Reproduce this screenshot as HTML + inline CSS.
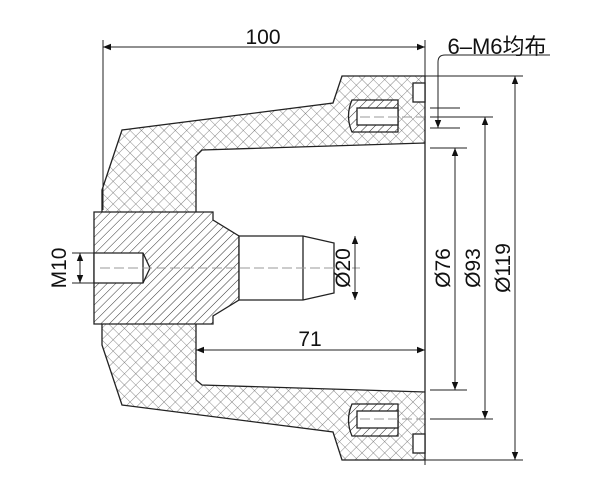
<!DOCTYPE html>
<html><head><meta charset="utf-8"><style>body{margin:0;background:#fff}svg{display:block}</style></head><body>
<svg width="600" height="500" viewBox="0 0 600 500" xmlns="http://www.w3.org/2000/svg" font-family="Liberation Sans, Noto Sans CJK SC, sans-serif">
<defs>
<pattern id="x" width="8" height="8" patternUnits="userSpaceOnUse" patternTransform="rotate(45)">
<rect width="8" height="8" fill="#fff"/><path d="M0 0H8M0 0V8" stroke="#666" stroke-width="0.8"/></pattern>
<pattern id="h" width="6" height="6" patternUnits="userSpaceOnUse" patternTransform="rotate(45)">
<rect width="6" height="6" fill="#fff"/><path d="M0 0V6" stroke="#333" stroke-width="1"/></pattern>
<marker id="a" viewBox="0 0 10 10" refX="10" refY="5" markerWidth="10" markerHeight="8" orient="auto-start-reverse" markerUnits="userSpaceOnUse"><path d="M0 1L10 5L0 9Z" fill="#111"/></marker>
</defs>
<g stroke="#222" stroke-width="1.3">
<path fill="url(#x)" fill-rule="evenodd" d="M342,76 L425,76 L425,460 L342,460 L333,432 L122,405 L102,345 L102,190 L122,130 L333,103 Z M202,150 L425,143 L425,392 L202,385 L196,380 L196,156 Z"/>
<path fill="url(#h)" d="M94,212 L213,212 L213,220 L239,236 L239,300 L213,316 L213,324 L94,324 Z"/>
<path fill="#fff" d="M94,253 L143,253 L150,268 L143,283 L94,283 Z"/>
<path fill="none" d="M143,253V283"/>
<path fill="#fff" d="M239,236 L303,236 L334,243 L334,293 L303,300 L239,300 Z M303,236V300"/>
<path fill="url(#h)" d="M398,100 L352,100 Q345,116 352,132 L398,132 Z"/>
<rect x="357" y="108" width="41" height="17" fill="#fff"/>
<path fill="url(#h)" d="M398,404 L352,404 Q345,420 352,436 L398,436 Z"/>
<rect x="357" y="411" width="41" height="17" fill="#fff"/>
<rect x="413" y="83" width="12" height="19" fill="#fff"/>
<rect x="413" y="434" width="12" height="19" fill="#fff"/>
</g>
<g stroke="#999" stroke-width="1" stroke-dasharray="10,4" fill="none">
<path d="M100,268H360M360,117H455M360,419H455"/>
</g>
<g stroke="#222" stroke-width="1" fill="none">
<path d="M103,40V210M425,40V465M425,76H523M425,460H523M430,148H467M430,390H467M430,117H493M430,419H493M430,108H460M430,128H460M72,253H94M72,283H94"/>
<path d="M445,55H550M445,55Q438,55 438,62V108"/>
<path d="M103,47H425" marker-start="url(#a)" marker-end="url(#a)"/>
<path d="M196,350H425" marker-start="url(#a)" marker-end="url(#a)"/>
<path d="M355,236V300" marker-start="url(#a)" marker-end="url(#a)"/>
<path d="M455,148V390" marker-start="url(#a)" marker-end="url(#a)"/>
<path d="M485,117V419" marker-start="url(#a)" marker-end="url(#a)"/>
<path d="M515,76V460" marker-start="url(#a)" marker-end="url(#a)"/>
<path d="M80,253V283" marker-start="url(#a)" marker-end="url(#a)"/>
<path d="M438,108V128" marker-end="url(#a)"/>
</g>
<g font-size="21" fill="#111">
<text x="263" y="44" text-anchor="middle">100</text>
<text x="310" y="346" text-anchor="middle">71</text>
<text x="497" y="54" text-anchor="middle" font-size="22">6–M6均布</text>
<text transform="translate(350,268) rotate(-90)" text-anchor="middle">Ø20</text>
<text transform="translate(450,268) rotate(-90)" text-anchor="middle">Ø76</text>
<text transform="translate(480,268) rotate(-90)" text-anchor="middle">Ø93</text>
<text transform="translate(510,268) rotate(-90)" text-anchor="middle">Ø119</text>
<text transform="translate(66,268) rotate(-90)" text-anchor="middle">M10</text>
</g>
</svg>
</body></html>
